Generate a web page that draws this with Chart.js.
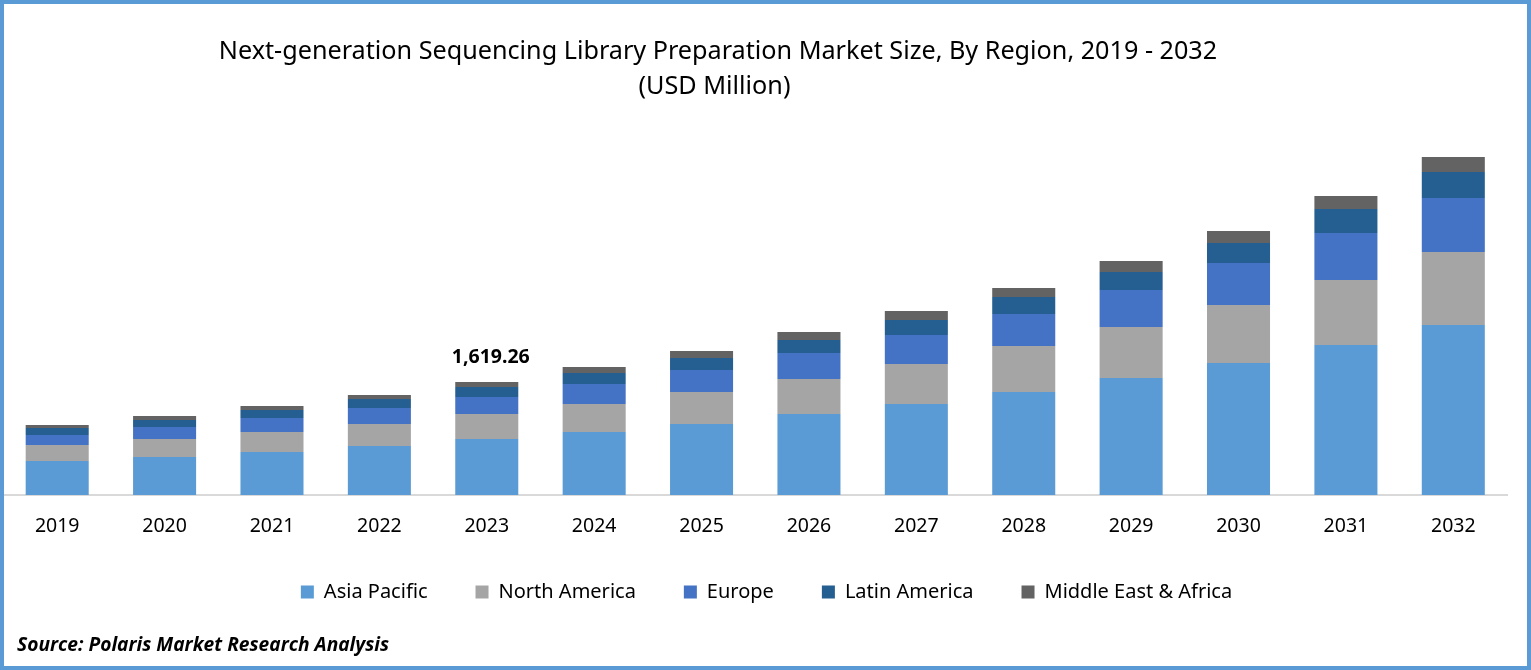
<!DOCTYPE html>
<html lang="en">
<head>
  <meta charset="UTF-8" />
  <title>NGS Library Preparation Market Size</title>
  <script src="https://cdn.jsdelivr.net/npm/chart.js"></script>
  <style>
    body { margin: 0; background: #fff; overflow: hidden; }
    #wrap { position: relative; width: 1531px; height: 670px; }
    #wrap canvas { position: absolute; left: 0; top: 0; }
    #frame { position: absolute; inset: 0; border: 4px solid #5b9bd5; pointer-events: none; }
  </style>
</head>
<body>
  <div id="wrap">
    <canvas id="chart" width="1531" height="670"></canvas>
    <div id="frame"></div>
  </div>

  <script>
    const years = ['2019', '2020', '2021', '2022', '2023', '2024', '2025', '2026', '2027', '2028', '2029', '2030', '2031', '2032'];

    // USD million (2023 total is the labelled 1,619.26)
    const asiaPacific = [487, 545, 616, 702, 802.5, 903, 1017, 1161, 1304, 1476, 1677, 1892, 2150, 2436];
    const northAmerica = [229, 258, 287, 315, 358.2, 401, 459, 502, 573, 659, 731, 831, 931, 1046];
    const europe = [143, 172, 201, 229, 243.6, 287, 315, 373, 416, 459, 530, 602, 674, 774];
    const latinAmerica = [100, 100, 115, 129, 143.3, 158, 172, 186, 215, 244, 258, 287, 344, 373];
    const middleEastAfrica = [43, 57, 57, 57, 71.66, 86, 100, 115, 129, 129, 158, 172, 186, 215];

    const titleLines = ['Next-generation Sequencing Library Preparation Market Size, By Region, 2019 - 2032', '(USD Million)'];
    const sourceText = 'Source: Polaris Market Research Analysis';
    const labelYear = '2023';
    const labelText = '1,619.26';

    const fontFamily = '"Noto Sans", sans-serif';

    // title, source line and the single value label
    const textPlugin = {
      id: 'textPlugin',
      afterDraw(chart) {
        const ctx = chart.ctx;
        ctx.save();
        ctx.fillStyle = '#000';
        ctx.textBaseline = 'middle';

        ctx.textAlign = 'center';
        ctx.font = '25.2px ' + fontFamily;
        ctx.fillText(titleLines[0], 718, 52);
        ctx.fillText(titleLines[1], 714.5, 87);

        ctx.textAlign = 'left';
        ctx.font = 'italic bold 19.2px "Open Sans", sans-serif';
        ctx.fillText(sourceText, 17, 646);

        const i = years.indexOf(labelYear);
        const top = chart.getDatasetMeta(4).data[i];
        ctx.textAlign = 'center';
        ctx.font = 'bold 19.5px ' + fontFamily;
        ctx.fillText(labelText, top.x + 4, top.y - 25);
        ctx.restore();
      }
    };

    new Chart(document.getElementById('chart'), {
      type: 'bar',
      data: {
        labels: years,
        datasets: [
          { label: 'Asia Pacific', data: asiaPacific, backgroundColor: '#5b9bd5' },
          { label: 'North America', data: northAmerica, backgroundColor: '#a5a5a5' },
          { label: 'Europe', data: europe, backgroundColor: '#4472c4' },
          { label: 'Latin America', data: latinAmerica, backgroundColor: '#255e91' },
          { label: 'Middle East & Africa', data: middleEastAfrica, backgroundColor: '#636363' }
        ]
      },
      plugins: [textPlugin],
      options: {
        responsive: false,
        animation: false,
        devicePixelRatio: 1,
        layout: { padding: { left: 3.5, right: 1.5, top: 146, bottom: 58 } },
        datasets: { bar: { barPercentage: 0.587, categoryPercentage: 1 } },
        plugins: {
          title: { display: false },
          tooltip: { enabled: false },
          legend: {
            position: 'bottom',
            labels: {
              boxWidth: 13,
              boxHeight: 13,
              padding: 48,
              color: '#000',
              font: { family: fontFamily, size: 20 }
            }
          }
        },
        scales: {
          x: {
            stacked: true,
            afterFit: scale => { scale.height = 39; },
            grid: { display: false, drawTicks: false },
            border: { color: '#d9d9d9', width: 2 },
            ticks: { color: '#000', padding: 20, maxRotation: 0, font: { family: fontFamily, size: 19.5 } }
          },
          // invisible axis, only keeps the plot short of the right edge while the legend stays centred
          y: {
            stacked: true,
            position: 'right',
            min: 0,
            max: 5000,
            afterFit: scale => { scale.width = 22.5; },
            grid: { display: false, drawTicks: false },
            border: { display: false },
            ticks: { display: false }
          }
        }
      }
    });
  </script>
</body>
</html>
